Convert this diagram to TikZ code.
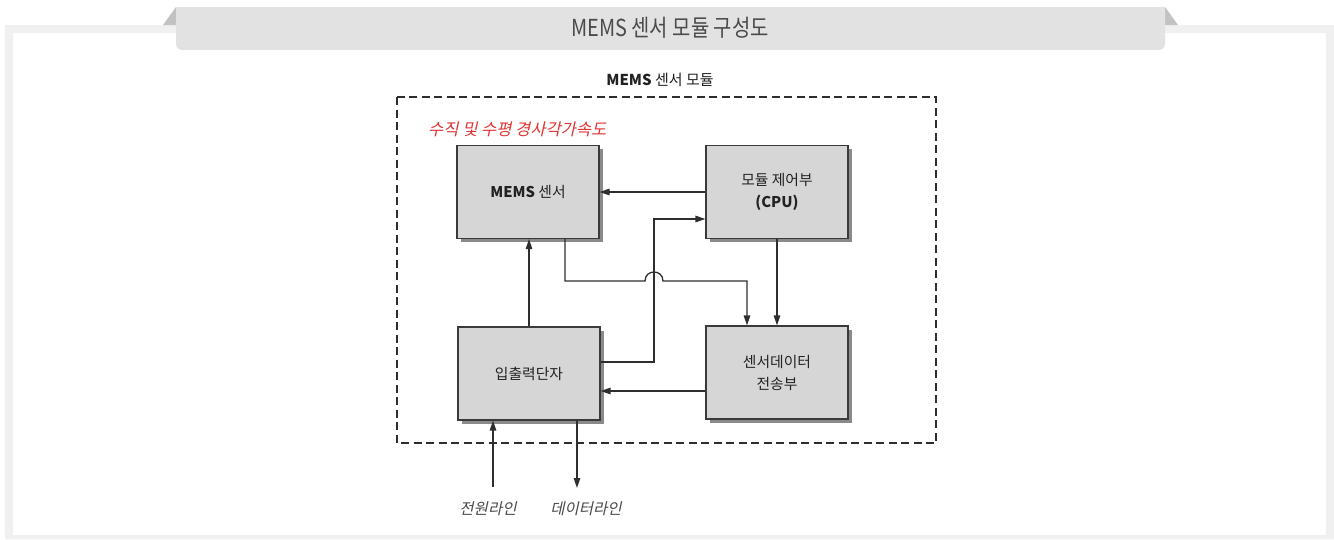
\documentclass[tikz,border=0pt]{standalone}
\usepackage{fontspec}
\setmainfont{Noto Sans CJK KR}
\newfontfamily\titlefont{Noto Sans CJK KR}[FakeStretch=0.85]
\newfontfamily\krit{Noto Sans CJK KR}[FakeSlant=0.22]
\usetikzlibrary{arrows.meta,shadows}
\definecolor{bandgray}{HTML}{F0F0F0}
\definecolor{tabgray}{HTML}{E2E2E2}
\definecolor{trigray}{HTML}{C2C2C2}
\definecolor{boxfill}{HTML}{D6D6D6}
\definecolor{boxline}{HTML}{3A3A3A}
\definecolor{shadowgray}{HTML}{8A8A8A}
\definecolor{linecol}{HTML}{2E2E2E}
\definecolor{redtxt}{HTML}{E03434}
\definecolor{txt}{HTML}{222222}
\definecolor{titletxt}{HTML}{4A4A4A}
\tikzset{
  blk/.style={draw=boxline, fill=boxfill, line width=1.2pt, minimum width=142pt, minimum height=93pt,
    inner sep=0pt, align=center, text=txt, font=\fontsize{14.8}{22}\selectfont,
    drop shadow={shadow xshift=3.5pt, shadow yshift=-3.5pt, fill=shadowgray, opacity=1}},
  conn/.style={draw=linecol, line width=1.3pt},
  arr/.style={conn, -{Triangle[length=10pt,width=6.5pt]}},
  lbl/.style={text=txt, inner sep=0pt}
}
\begin{document}
\begin{tikzpicture}[x=1pt,y=-1pt]
\useasboundingbox (0,0) rectangle (1334,539);
% outer frame band
\fill[bandgray, even odd rule] (5,25) rectangle (1334,539) (13,33) rectangle (1326,535);
% title tab
\fill[trigray] (163,25) -- (176,25) -- (176,7) -- cycle;
\fill[trigray] (1165,25) -- (1178,25) -- (1165,7) -- cycle;
\fill[tabgray] (176,7) -- (1165,7) {[rounded corners=6pt] -- (1165,50) -- (176,50)} -- cycle;
\node[text=titletxt, font=\titlefont\fontsize{23.4}{26}\selectfont] (title) at (670,28) {MEMS 센서 모듈 구성도};
% module dashed frame
\draw[linecol, line width=1.2pt, dash pattern=on 8pt off 4.5pt] (397,97) rectangle (936,443);
\node[lbl, font=\fontsize{15}{17}\selectfont] (modlbl) at (660,80) {\textbf{MEMS} 센서 모듈};
\node[lbl, text=redtxt, font=\krit\fontsize{16.5}{18}\selectfont, anchor=west] (redlbl) at (428,129) {수직 및 수평 경사각가속도};
% blocks
\node[blk] (mems) at (528,192) {\textbf{MEMS} 센서};
\node[blk] (cpu) at (777,192) {모듈 제어부\\\textbf{(CPU)}};
\node[blk] (io) at (529,373.5) {입출력단자};
\node[blk] (sen) at (777,372.5) {센서데이터\\전송부};
% connectors
\coordinate (j1) at (654,219);
\coordinate (hopA) at (645,281);
\coordinate (hopB) at (663,281);
\coordinate (pw) at (493,487);
\coordinate (dl) at (577,488);
\draw[arr] (cpu.west) -- (mems.east);
\draw[arr] (io.east |- 0,362) -| (j1) -- (cpu.west |- j1);
\draw[arr] (io.north) -- (io.north |- mems.south);
\draw[arr] (cpu.south) -- (cpu.south |- sen.north);
\draw[arr] (mems.south -| 565,0) |- (hopA) .. controls (645,269) and (663,269) .. (hopB) -| (sen.north -| 747,0);
\draw[arr] (sen.west |- 0,391) -- (io.east |- 0,391);
\draw[arr] (pw) -- (io.south -| pw);
\draw[arr] (io.south -| dl) -- (dl);
% line labels
\node[lbl, text=titletxt, font=\krit\fontsize{15.5}{17}\selectfont] (lpw) at (488,509) {전원라인};
\node[lbl, text=titletxt, font=\krit\fontsize{15.5}{17}\selectfont] (ldl) at (586,509) {데이터라인};
\end{tikzpicture}
\end{document}
